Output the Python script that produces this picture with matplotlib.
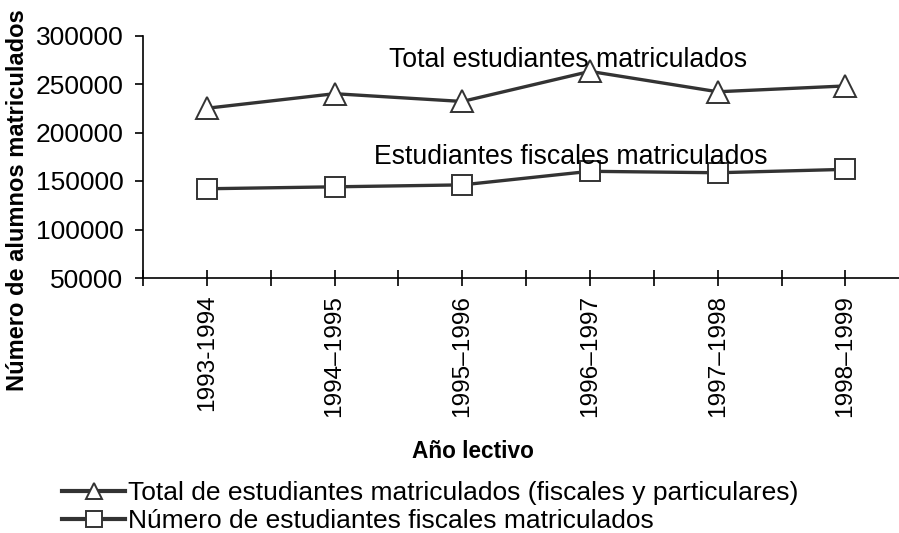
import matplotlib
matplotlib.use("Agg")
import matplotlib.pyplot as plt
from matplotlib.ticker import FixedLocator

plt.rcParams['font.family'] = ['Liberation Sans', 'DejaVu Sans']

years = ["1993-1994", "1994\u20131995", "1995\u20131996", "1996\u20131997", "1997\u20131998", "1998\u20131999"]
total = [225000, 240000, 232000, 263000, 242000, 248000]
fiscal = [142000, 144000, 146000, 160000, 158500, 162000]
yticks = [50000, 100000, 150000, 200000, 250000, 300000]

label_total = "Total de estudiantes matriculados (fiscales y particulares)"
label_fiscal = "Número de estudiantes fiscales matriculados"

W, H = 899, 533
fig = plt.figure(figsize=(W/100, H/100), dpi=100)
ax = fig.add_axes([143/W, 1-278/H, 1-143/W, (278-35.5)/H])

x = list(range(len(years)))
lc = '#333333'
ax.plot(x, total, color=lc, lw=2.4, marker='^', ms=16.5, mfc='white', mec=lc, mew=1.4,
        label=label_total, clip_on=False)
ax.plot(x, fiscal, color=lc, lw=2.4, marker='s', ms=14.5, mfc='white', mec=lc, mew=1.4,
        label=label_fiscal, clip_on=False)

ax.set_xlim(-0.5, 5.42)
ax.set_ylim(50000, 300000)
ax.set_yticks(yticks)
ax.set_yticklabels([str(v) for v in yticks], fontsize=19)
ax.set_xticks(x)
ax.set_xticklabels(years, rotation=90, fontsize=17.6)
ax.xaxis.set_minor_locator(FixedLocator([i + 0.5 for i in range(-1, len(years))]))

for s in ['top', 'right']:
    ax.spines[s].set_visible(False)
for s in ['left', 'bottom']:
    ax.spines[s].set_linewidth(1.2)
    ax.spines[s].set_color('black')

ax.tick_params(axis='y', direction='out', length=6, width=1.2, pad=8)
ax.tick_params(axis='x', which='both', direction='inout', length=12, width=1.2, pad=6)

ax.text(1.424, 274700, "Total estudiantes matriculados", fontsize=19.2, va='center', ha='left')
ax.text(1.307, 174600, "Estudiantes fiscales matriculados", fontsize=19.2, va='center', ha='left')

fig.text(18/W, 1-200/H, "Número de alumnos matriculados", rotation=90, ha='center', va='center',
         fontsize=17, fontweight='bold')
fig.text(473/W, 1-451/H, "Año lectivo", ha='center', va='center', fontsize=16.3, fontweight='bold')

handles, labels = ax.get_legend_handles_labels()
leg = fig.legend(handles, labels, loc='upper left', bbox_to_anchor=(62/W, 1-481/H),
                 frameon=False, fontsize=19, handlelength=2.4, handletextpad=0.1,
                 labelspacing=0.16, borderpad=0, borderaxespad=0)
for h in leg.legend_handles:
    h.set_markersize(12)
    h.set_linewidth(3)

fig.savefig("out.png", dpi=100)
